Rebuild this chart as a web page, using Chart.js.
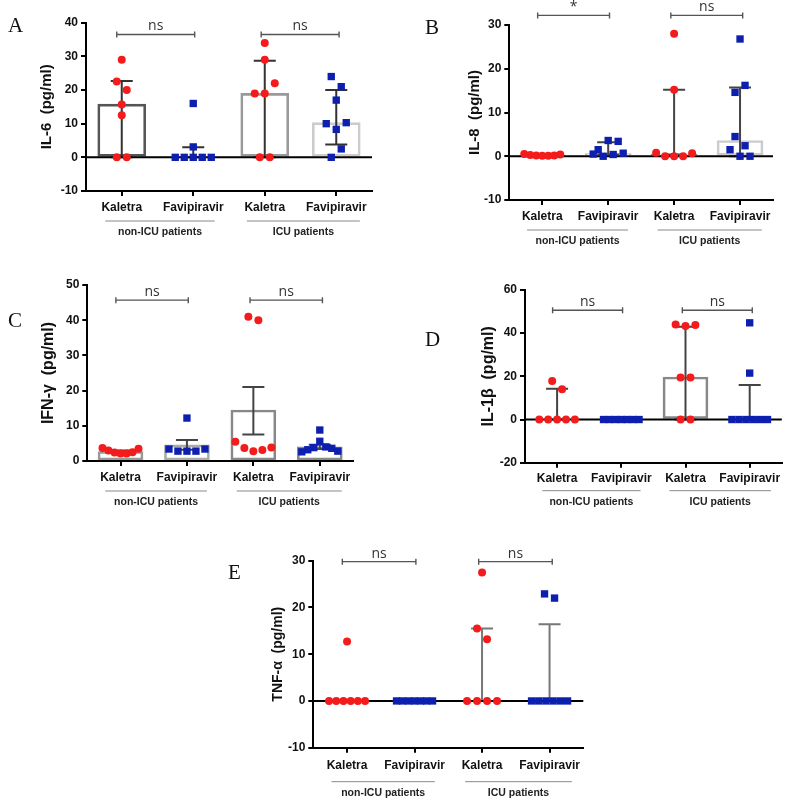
<!DOCTYPE html>
<html>
<head>
<meta charset="utf-8">
<script src="https://cdn.jsdelivr.net/npm/chart.js@4.4.1/dist/chart.umd.min.js"></script>
<style>
  html, body { margin: 0; padding: 0; background: #fff; }
  #fig { position: relative; width: 787px; height: 800px; overflow: hidden; }
  #fig canvas { position: absolute; }
  .tag { position: absolute; font-family: "Liberation Serif", "Times New Roman", serif; font-size: 21px; line-height: 1; color: #111; }
</style>
</head>
<body>
<div id="fig">
  <canvas id="cA" width="390" height="250" style="left:0;top:0"></canvas>
  <canvas id="cB" width="397" height="260" style="left:390px;top:0"></canvas>
  <canvas id="cC" width="390" height="260" style="left:0;top:260px"></canvas>
  <canvas id="cD" width="397" height="270" style="left:390px;top:260px"></canvas>
  <canvas id="cE" width="420" height="280" style="left:190px;top:520px"></canvas>
  <div class="tag" style="left:8px;top:15px">A</div>
  <div class="tag" style="left:425px;top:17px">B</div>
  <div class="tag" style="left:8px;top:310px">C</div>
  <div class="tag" style="left:425px;top:329px">D</div>
  <div class="tag" style="left:228px;top:562px">E</div>
</div>
<script>
'use strict';

// ──────────────────────────────────────────────────────────────
//  Data
// ──────────────────────────────────────────────────────────────
const groups  = ['Kaletra', 'Favipiravir', 'Kaletra', 'Favipiravir'];
const cohorts = ['non-ICU patients', 'ICU patients'];

// A — IL-6, median with IQR
const il6Ticks  = [-10, 0, 10, 20, 30, 40];
const il6KalNon = [29, 22.5, 20, 15.7, 12.5, 0, 0];
const il6FavNon = [16, 3.1, 0, 0, 0, 0, 0];
const il6KalIcu = [34, 29, 19, 19, 22, 0, 0];
const il6FavIcu = [24, 21, 17, 10, 8.3, 10.3, 0, 2.5];
const il6Bar    = [15.8, 0, 19, 10.3];
const il6Lo     = [0, 0, 0, 3.8];
const il6Hi     = [22.7, 3, 28.7, 20];
const il6Sig    = ['ns', 'ns'];

// B — IL-8, median with IQR
const il8Ticks  = [-10, 0, 10, 20, 30];
const il8KalNon = [0.5, 0.3, 0.2, 0.1, 0.1, 0.2, 0.4];
const il8FavNon = [1.5, 3.6, 3.4, 0.5, 0, 0.4, 0.7];
const il8KalIcu = [28, 15.2, 0.8, 0, 0, 0, 0.7];
const il8FavIcu = [26.8, 14.6, 16.2, 4.5, 2.4, 1.5, 0, 0];
const il8Bar    = [0.2, 0.6, 0.5, 3.6];
const il8Lo     = [0.1, 0.4, 0.4, 0];
const il8Hi     = [0.4, 3.2, 15.2, 15.7];
const il8Sig    = ['*', 'ns'];

// C — IFN-γ, mean with SEM
const ifnTicks  = [0, 10, 20, 30, 40, 50];
const ifnKalNon = [3.7, 3.0, 2.4, 2.1, 2.1, 2.5, 3.5];
const ifnFavNon = [12.2, 3.4, 2.8, 2.8, 2.8, 3.4];
const ifnKalIcu = [41, 40, 5.5, 3.7, 2.8, 3.1, 3.8];
const ifnFavIcu = [8.8, 2.6, 3.2, 3.8, 5.6, 4.0, 3.6, 2.8];
const ifnBar    = [2.7, 4.6, 14.5, 4.0];
const ifnLo     = [2.4, 3.2, 7.5, 3.4];
const ifnHi     = [3.0, 6.0, 21.0, 4.6];
const ifnSig    = ['ns', 'ns'];

// D — IL-1β, median with IQR
const il1Ticks  = [-20, 0, 20, 40, 60];
const il1KalNon = [17.8, 14, 0, 0, 0, 0, 0];
const il1FavNon = [0, 0, 0, 0, 0, 0, 0];
const il1KalIcu = [44, 43.3, 43.8, 19.5, 19.5, 0, 0];
const il1FavIcu = [44.8, 21.5, 0, 0, 0, 0, 0, 0];
const il1Bar    = [0, 0, 19.7, 0];
const il1Lo     = [0, 0, 0, 0];
const il1Hi     = [14.2, 0, 43, 16];
const il1Sig    = ['ns', 'ns'];

// E — TNF-α, median with IQR
const tnfTicks  = [-10, 0, 10, 20, 30];
const tnfKalNon = [12.7, 0, 0, 0, 0, 0, 0];
const tnfFavNon = [0, 0, 0, 0, 0, 0, 0];
const tnfKalIcu = [27.5, 15.5, 13.2, 0, 0, 0, 0];
const tnfFavIcu = [22.9, 22, 0, 0, 0, 0, 0, 0];
const tnfBar    = [0, 0, 0, 0];
const tnfLo     = [0, 0, 0, 0];
const tnfHi     = [0, 0, 15.5, 16.4];
const tnfSig    = ['ns', 'ns'];

// ──────────────────────────────────────────────────────────────
//  Styling / layout
// ──────────────────────────────────────────────────────────────
const SANS = '"Liberation Sans", Arial, sans-serif';
const RED  = '#f31b1b';
const BLUE = '#0d1fae';

const panels = [
  { id: 'cA', box: [0, 0, 390, 250],    area: [86, 22.7, 372, 191],
    title: 'IL-6  (pg/ml)', titleSize: 15, titleX: 47,
    ticks: il6Ticks, pts: [il6KalNon, il6FavNon, il6KalIcu, il6FavIcu],
    bar: il6Bar, lo: il6Lo, hi: il6Hi, sig: il6Sig, sigY: 36.5,
    barW: 48, barColors: ['#555', '#555', '#999', '#ccc'], errColor: '#333', groupOff: 30, labelPad: 4 },
  { id: 'cB', box: [390, 0, 397, 260],  area: [509.3, 25, 773, 200],
    title: 'IL-8  (pg/ml)', titleSize: 15, titleX: 85,
    ticks: il8Ticks, pts: [il8KalNon, il8FavNon, il8KalIcu, il8FavIcu],
    bar: il8Bar, lo: il8Lo, hi: il8Hi, sig: il8Sig, sigY: 32.2,
    barW: 46, barColors: ['#555', '#bbb', '#888', '#ccc'], errColor: '#444', groupOff: 30, labelPad: 4 },
  { id: 'cC', box: [0, 260, 390, 260],  area: [87.3, 285, 353, 461],
    title: 'IFN-γ  (pg/ml)', titleSize: 16, titleX: 48.3,
    ticks: ifnTicks, pts: [ifnKalNon, ifnFavNon, ifnKalIcu, ifnFavIcu],
    bar: ifnBar, lo: ifnLo, hi: ifnHi, sig: ifnSig, sigY: 45.7,
    barW: 45, barColors: ['#999', '#aaa', '#888', '#888'], errColor: '#444', groupOff: 30, labelPad: 4 },
  { id: 'cD', box: [390, 260, 397, 270], area: [525, 290, 785, 462.7],
    title: 'IL-1β  (pg/ml)', titleSize: 16, titleX: 98.3,
    ticks: il1Ticks, pts: [il1KalNon, il1FavNon, il1KalIcu, il1FavIcu],
    bar: il1Bar, lo: il1Lo, hi: il1Hi, sig: il1Sig, sigY: 50.6,
    barW: 45, barColors: ['#777', '#777', '#888', '#888'], errColor: '#444', groupOff: 28, labelPad: 4 },
  { id: 'cE', box: [190, 520, 420, 280], area: [313.3, 560.7, 583.3, 747.7],
    title: 'TNF-α  (pg/ml)', titleSize: 14, titleX: 88.3,
    ticks: tnfTicks, pts: [tnfKalNon, tnfFavNon, tnfKalIcu, tnfFavIcu],
    bar: tnfBar, lo: tnfLo, hi: tnfHi, sig: tnfSig, sigY: 29.8,
    barW: 45, barColors: ['#888', '#888', '#888', '#888'], errColor: '#777', groupOff: 34, labelPad: 6 },
];

// ──────────────────────────────────────────────────────────────
//  Scatter spreading: points close in value sit side by side
// ──────────────────────────────────────────────────────────────
function swarm(vals, cx, thr, unitPx) {
  const order = vals.map((v, i) => i).sort((a, b) => vals[b] - vals[a]);
  const out = [];
  let i = 0;
  while (i < order.length) {
    const top = vals[order[i]];
    const grp = [];
    while (i < order.length && top - vals[order[i]] < thr) grp.push(order[i++]);
    grp.sort((a, b) => a - b); // keep reading order left to right
    const gap = Math.min(10, 36 / Math.max(grp.length - 1, 1));
    grp.forEach((k, j) => {
      out.push({ x: cx + (j - (grp.length - 1) / 2) * gap / unitPx, y: vals[k] });
    });
  }
  return out;
}

// ──────────────────────────────────────────────────────────────
//  Extras: error bars, zero line, significance, cohort labels
// ──────────────────────────────────────────────────────────────
function figureExtras(p) {
  return {
    id: 'figureExtras',
    afterDatasetDraw(chart, args) {
      if (args.index !== 0) return;
      const { ctx, chartArea: a } = chart;
      const xs = chart.scales.x, ys = chart.scales.y;
      ctx.save();
      ctx.strokeStyle = p.errColor;
      ctx.lineWidth = 2;
      p.lo.forEach((lo, i) => {
        const cx = xs.getPixelForValue(i + 1);
        const y0 = ys.getPixelForValue(lo);
        const y1 = ys.getPixelForValue(p.hi[i]);
        ctx.beginPath();
        ctx.moveTo(cx, y0); ctx.lineTo(cx, y1);
        ctx.moveTo(cx - 11, y0); ctx.lineTo(cx + 11, y0);
        ctx.moveTo(cx - 11, y1); ctx.lineTo(cx + 11, y1);
        ctx.stroke();
      });
      const z = ys.getPixelForValue(0);
      ctx.strokeStyle = '#000';
      ctx.beginPath();
      ctx.moveTo(a.left, z); ctx.lineTo(a.right, z);
      ctx.stroke();
      ctx.restore();
    },
    afterDraw(chart) {
      const { ctx, chartArea: a } = chart;
      const xs = chart.scales.x, ys = chart.scales.y;
      ctx.save();

      // significance brackets
      const sy = ys.getPixelForValue(p.sigY);
      [[0.93, 2.02], [2.95, 4.04]].forEach(([s, e], k) => {
        const x0 = xs.getPixelForValue(s), x1 = xs.getPixelForValue(e);
        ctx.strokeStyle = '#555';
        ctx.lineWidth = 1.4;
        ctx.beginPath();
        ctx.moveTo(x0, sy); ctx.lineTo(x1, sy);
        ctx.moveTo(x0, sy - 3); ctx.lineTo(x0, sy + 3);
        ctx.moveTo(x1, sy - 3); ctx.lineTo(x1, sy + 3);
        ctx.stroke();
        ctx.fillStyle = '#333';
        ctx.font = '14px "Open Sans", ' + SANS;
        ctx.textAlign = 'center';
        ctx.textBaseline = 'alphabetic';
        ctx.fillText(p.sig[k], (x0 + x1) / 2, sy - 4);
      });

      // cohort lines + labels
      const gy = a.bottom + p.groupOff;
      [[0.77, 2.3], [2.75, 4.33]].forEach(([s, e], k) => {
        const x0 = xs.getPixelForValue(s), x1 = xs.getPixelForValue(e);
        ctx.strokeStyle = '#888';
        ctx.lineWidth = 1;
        ctx.beginPath();
        ctx.moveTo(x0, gy); ctx.lineTo(x1, gy);
        ctx.stroke();
        ctx.fillStyle = '#222';
        ctx.font = 'bold 10.5px ' + SANS;
        ctx.textAlign = 'center';
        ctx.textBaseline = 'middle';
        ctx.fillText(cohorts[k], (x0 + x1) / 2, gy + 11);
      });
      ctx.restore();
    },
  };
}

// ──────────────────────────────────────────────────────────────
//  Build one chart per panel
// ──────────────────────────────────────────────────────────────
function renderPanel(p) {
  const [bl, bt, bw, bh] = p.box;
  const [al, at, ar, ab] = p.area;
  const unitPx = (ar - al) / 4;
  const yMin = p.ticks[0], yMax = p.ticks[p.ticks.length - 1];
  const thr = (yMax - yMin) * 0.062;
  const lineH = p.titleSize * 1.2;

  const scatterSets = p.pts.map((vals, i) => ({
    type: 'scatter',
    order: 0,
    data: swarm(vals, i + 1, thr, unitPx),
    pointStyle: i % 2 === 0 ? 'circle' : 'rect',
    pointRadius: i % 2 === 0 ? 4 : 5.2,
    pointHoverRadius: i % 2 === 0 ? 4 : 5.2,
    backgroundColor: i % 2 === 0 ? RED : BLUE,
    borderWidth: 0,
    clip: false,
  }));

  new Chart(document.getElementById(p.id), {
    type: 'bar',
    data: {
      datasets: [
        {
          type: 'bar',
          order: 1,
          data: p.bar.map((v, i) => ({ x: i + 1, y: v })),
          backgroundColor: 'rgba(0,0,0,0)',
          borderColor: p.barColors,
          borderWidth: 2,
          borderSkipped: false,
          barThickness: p.barW,
        },
        ...scatterSets,
      ],
    },
    options: {
      responsive: false,
      animation: false,
      devicePixelRatio: 1,
      layout: { padding: { left: 0, top: at - bt, right: bl + bw - ar, bottom: 0 } },
      plugins: { legend: { display: false }, tooltip: { enabled: false } },
      scales: {
        x: {
          type: 'linear',
          min: 0.5,
          max: 4.5,
          offset: false,
          afterBuildTicks: s => { s.ticks = [1, 2, 3, 4].map(v => ({ value: v })); },
          afterFit: s => { s.height = bt + bh - ab; },
          grid: { drawOnChartArea: false, offset: false, color: '#000', lineWidth: 2, tickLength: 5 },
          border: { color: '#000', width: 2 },
          ticks: {
            autoSkip: false,
            maxRotation: 0,
            padding: p.labelPad,
            color: '#111',
            font: { family: SANS, size: 12, weight: 'bold' },
            callback: v => groups[v - 1],
          },
        },
        y: {
          min: yMin,
          max: yMax,
          afterBuildTicks: s => { s.ticks = p.ticks.map(v => ({ value: v })); },
          afterFit: s => { s.width = al - bl; },
          grid: { drawOnChartArea: false, color: '#000', lineWidth: 2, tickLength: 5 },
          border: { color: '#000', width: 2 },
          ticks: {
            padding: 3,
            color: '#111',
            font: { family: SANS, size: 12, weight: 'bold' },
          },
          title: {
            display: true,
            text: p.title,
            color: '#111',
            font: { family: SANS, size: p.titleSize, weight: 'bold' },
            padding: { top: p.titleX - lineH / 2, bottom: 0 },
          },
        },
      },
    },
    plugins: [figureExtras(p)],
  });
}

panels.forEach(renderPanel);
</script>
</body>
</html>
